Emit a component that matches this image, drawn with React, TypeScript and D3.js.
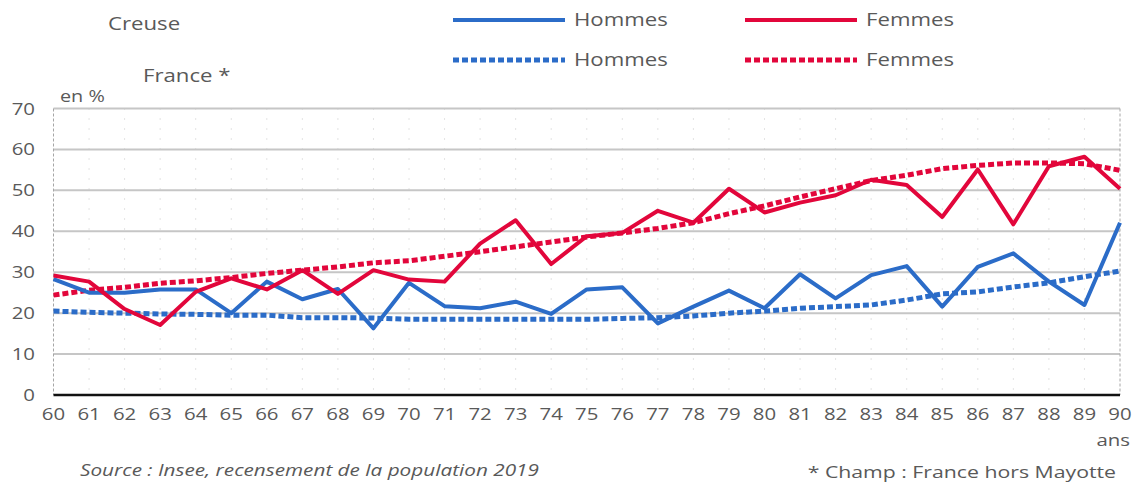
import * as React from 'react';
import * as d3 from 'd3';

const ages = d3.range(60, 91);
const creuseHommes = [28.3, 25, 25, 25.8, 25.8, 20, 27.7, 23.4, 25.9, 16.3, 27.4, 21.7, 21.2, 22.8, 19.8, 25.8, 26.3, 17.5, 21.6, 25.5, 21.2, 29.5, 23.6, 29.3, 31.5, 21.6, 31.3, 34.6, 27.7, 22, 42.1];
const creuseFemmes = [29.2, 27.7, 21, 17.1, 25.2, 28.5, 25.8, 30.5, 24.7, 30.5, 28.2, 27.7, 37, 42.7, 32, 38.8, 39.6, 45, 42.1, 50.4, 44.6, 47, 48.8, 52.6, 51.3, 43.5, 55.1, 41.7, 55.9, 58.2, 50.4];
const franceHommes = [20.5, 20.2, 20, 19.8, 19.7, 19.5, 19.5, 18.9, 18.9, 18.8, 18.5, 18.5, 18.5, 18.5, 18.5, 18.5, 18.7, 18.9, 19.3, 20, 20.5, 21.2, 21.6, 22, 23.2, 24.7, 25.2, 26.4, 27.4, 28.9, 30.3];
const franceFemmes = [24.4, 25.6, 26.3, 27.3, 27.9, 28.7, 29.7, 30.5, 31.3, 32.3, 32.8, 33.9, 35, 36.2, 37.4, 38.6, 39.6, 40.7, 42.1, 44.3, 46.2, 48.4, 50.4, 52.4, 53.7, 55.3, 56.1, 56.7, 56.7, 56.5, 54.9];
const yTicks = [0, 10, 20, 30, 40, 50, 60, 70];

const BLUE = '#2b6cc8';
const RED = '#e2063b';
const TEXT = '#595959';
const FONT = '"Open Sans", sans-serif';

const series = [
  { name: 'Hommes', values: creuseHommes, color: BLUE, dotted: false },
  { name: 'Femmes', values: creuseFemmes, color: RED, dotted: false },
  { name: 'Hommes', values: franceHommes, color: BLUE, dotted: true },
  { name: 'Femmes', values: franceFemmes, color: RED, dotted: true },
];

// text is a bit stretched horizontally in the original
const T = ({ x, y, size, anchor = 'start', italic = false, sx = 1.2, children }: any) => (
  <text transform={`translate(${x},${y}) scale(${sx},1)`} fontSize={size} fill={TEXT}
    textAnchor={anchor} fontStyle={italic ? 'italic' : 'normal'}>{children}</text>
);

export default function App() {
  const width = 1137;
  const height = 486;
  const left = 53.5, right = 1120, top = 108.5, bottom = 395;

  const x = d3.scaleLinear().domain([60, 90]).range([left, right]);
  const y = d3.scaleLinear().domain([0, 70]).range([bottom, top]);

  const line = d3.line<number>()
    .x((d, i) => x(ages[i]))
    .y(d => y(d));

  return (
    <svg width={width} height={height} style={{ position: 'absolute', left: 0, top: 0, fontFamily: FONT }}>
      <rect width={width} height={height} fill="#fff" />

      {/* legend */}
      <T x={108} y={30} size={18.5}>Creuse</T>
      <T x={143} y={82} size={18.5}>France *</T>
      {series.map((s, i) => {
        const col = i % 2;
        const row = s.dotted ? 1 : 0;
        const lx = col === 0 ? 453 : 745;
        const ly = row === 0 ? 20 : 60;
        return (
          <g key={i}>
            <line x1={lx} x2={lx + 112} y1={ly} y2={ly} stroke={s.color}
              strokeWidth={s.dotted ? 5 : 4} strokeDasharray={s.dotted ? '6 3' : undefined} />
            <T x={lx + 121} y={ly + 6} size={18.5}>{s.name}</T>
          </g>
        );
      })}

      {/* grid */}
      {ages.slice(1, -1).map(a => (
        <line key={a} x1={x(a)} x2={x(a)} y1={top} y2={bottom} stroke="#c8c8c8" strokeWidth={1} strokeDasharray="1 9" />
      ))}
      {yTicks.filter(t => t > 0).map(t => (
        <line key={t} x1={left} x2={right} y1={y(t)} y2={y(t)} stroke="#c6c6c6" strokeWidth={2} />
      ))}
      <line x1={left} x2={left} y1={top} y2={bottom} stroke="#a6a6a6" strokeWidth={1} strokeDasharray="3 2" />
      <line x1={right} x2={right} y1={top} y2={bottom} stroke="#a6a6a6" strokeWidth={1} strokeDasharray="3 2" />
      <line x1={left} x2={right} y1={bottom} y2={bottom} stroke="#111" strokeWidth={2.5} />

      {/* y axis */}
      {yTicks.map(t => (
        <T key={t} x={35} y={y(t) + 6} size={17} anchor="end">{t}</T>
      ))}
      <T x={60} y={102} size={16.5}>en %</T>

      {/* x axis */}
      {ages.map(a => (
        <T key={a} x={x(a)} y={420} size={17} anchor="middle">{a}</T>
      ))}
      <T x={1130} y={446} size={17} anchor="end">ans</T>

      {/* series: France first (underneath), then Creuse */}
      {[series[2], series[3], series[0], series[1]].map((s, i) => (
        <path key={i} d={line(s.values) || ''} fill="none" stroke={s.color}
          strokeWidth={s.dotted ? 5 : 4} strokeDasharray={s.dotted ? '6 3' : undefined}
          strokeLinejoin="round" />
      ))}

      {/* notes */}
      <T x={80} y={476} size={17} italic sx={1.22}>Source : Insee, recensement de la population 2019</T>
      <T x={1116} y={478} size={17} anchor="end" sx={1.25}>* Champ : France hors Mayotte</T>
    </svg>
  );
}
